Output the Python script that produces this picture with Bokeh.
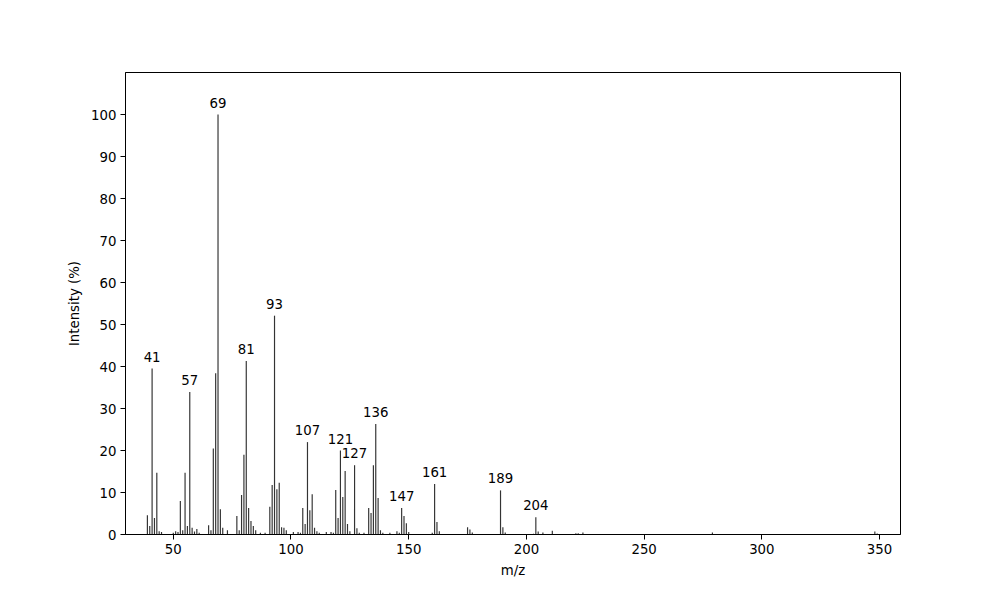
from bokeh.plotting import figure
from bokeh.models import ColumnDataSource, FixedTicker, Range1d
from bokeh.core.properties import value
from bokeh.embed import file_html
from bokeh.resources import INLINE

mz = [39, 40, 41, 42, 43, 44, 45, 50, 51, 52, 53, 54, 55, 56, 57, 58, 59, 60, 61,
      65, 66, 67, 68, 69, 70, 71, 73, 77, 78, 79, 80, 81, 82, 83, 84, 85, 87, 89,
      91, 92, 93, 94, 95, 96, 97, 98, 101, 103, 104, 105, 106, 107, 108, 109, 110,
      111, 112, 115, 117, 118, 119, 120, 121, 122, 123, 124, 125, 127, 128, 129,
      131, 133, 134, 135, 136, 137, 138, 139, 142, 145, 146, 147, 148, 149, 150,
      160, 161, 162, 163, 175, 176, 177, 189, 190, 191, 203, 204, 205, 207, 211,
      221, 222, 224, 279, 348, 349]
intensity = [4.6, 2.0, 39.5, 3.9, 14.7, 0.8, 0.6, 0.4, 0.8, 0.6, 8.0, 1.0, 14.7, 2.0, 33.9, 1.6, 0.7, 1.3, 0.4,
             2.2, 1.0, 20.5, 38.4, 100.0, 6.0, 1.6, 1.0, 4.4, 1.0, 9.4, 19.0, 41.3, 6.3, 3.2, 2.0, 1.0, 0.4, 0.4,
             6.6, 11.8, 52.1, 10.8, 12.3, 1.7, 1.6, 1.0, 0.6, 0.6, 0.4, 6.3, 2.5, 22.0, 5.8, 9.6, 1.6,
             0.8, 0.4, 0.6, 0.6, 0.4, 10.6, 3.9, 20.0, 8.9, 15.1, 2.5, 0.8, 16.5, 1.5, 0.4,
             0.4, 6.3, 5.1, 16.5, 26.3, 8.7, 1.0, 0.4, 0.4, 0.8, 0.4, 6.3, 4.4, 2.7, 0.6,
             0.4, 12.0, 3.0, 0.8, 1.7, 1.2, 0.5, 10.5, 1.7, 0.5, 0.2, 4.1, 0.7, 0.5, 0.9,
             0.3, 0.3, 0.5, 0.5, 0.7, 0.25]
labeled_peaks = [41, 57, 69, 81, 93, 107, 121, 127, 136, 147, 161, 189, 204]

x_ticks = [50, 100, 150, 200, 250, 300, 350]
y_ticks = [0, 10, 20, 30, 40, 50, 60, 70, 80, 90, 100]

FONT = "DejaVu Sans"

p = figure(width=992, height=592, output_backend="svg", toolbar_location=None,
           x_range=Range1d(29.7, 358.9), y_range=Range1d(0, 110),
           min_border_left=125, min_border_right=92, min_border_top=72,
           min_border_bottom=58)

src = ColumnDataSource(dict(x=mz, top=intensity))
p.vbar(x="x", top="top", bottom=0, width=0.5, source=src,
       fill_color="black", line_color=None, fill_alpha=0.8)

lab_y = [intensity[mz.index(m)] for m in labeled_peaks]
lsrc = ColumnDataSource(dict(x=labeled_peaks, y=lab_y, t=[str(m) for m in labeled_peaks]))
p.text(x="x", y="y", text="t", source=lsrc, text_align="center",
       text_baseline="alphabetic", y_offset=-12, text_font=value(FONT),
       text_font_size="13.3px", text_color="black")

p.xgrid.visible = False
p.ygrid.visible = False
p.outline_line_color = "black"
p.outline_line_width = 1
p.outline_line_alpha = 1
p.background_fill_color = "white"
p.border_fill_color = "white"

p.xaxis.ticker = FixedTicker(ticks=x_ticks)
p.yaxis.ticker = FixedTicker(ticks=y_ticks)
p.xaxis.axis_label = "m/z"
p.yaxis.axis_label = "Intensity (%)"
for ax in (p.xaxis, p.yaxis):
    ax.axis_label_text_font = FONT
    ax.axis_label_text_font_style = "normal"
    ax.axis_label_text_font_size = "13.3px"
    ax.axis_label_text_color = "black"
    ax.major_label_text_font = FONT
    ax.major_label_text_font_size = "13.3px"
    ax.major_label_text_color = "black"
    ax.axis_line_color = "black"
    ax.major_tick_line_color = "black"
    ax.major_tick_out = 5
    ax.major_tick_in = 0
    ax.minor_tick_line_color = None
    ax.major_label_standoff = 4
    ax.axis_label_standoff = 6

open("out.html", "w").write(file_html(p, INLINE))
